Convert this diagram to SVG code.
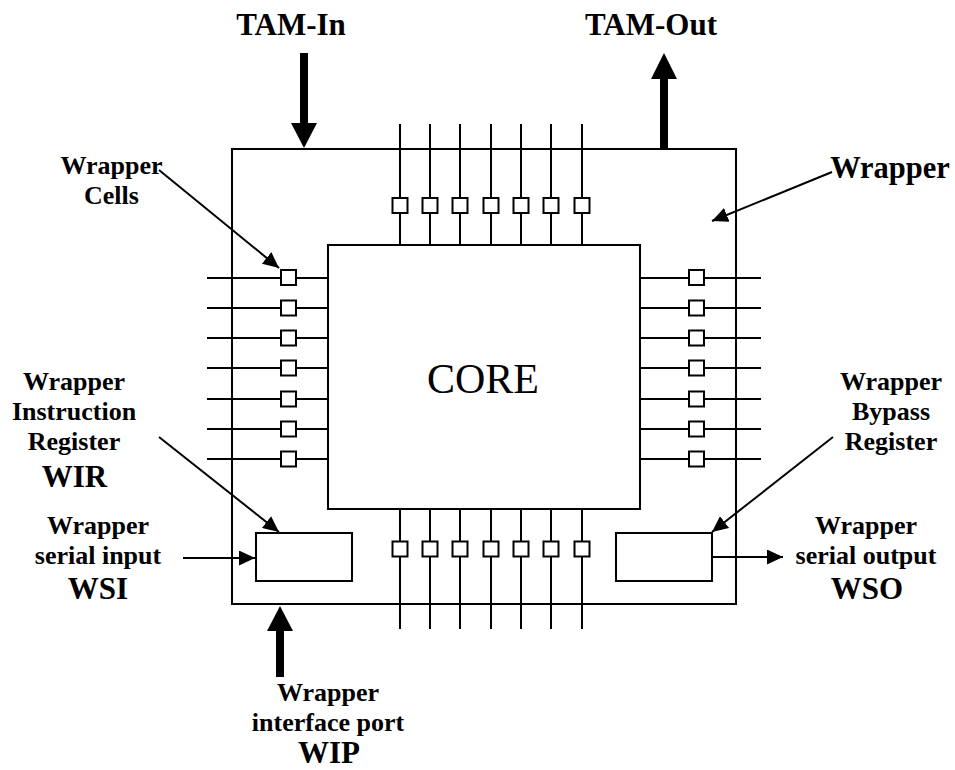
<svg xmlns="http://www.w3.org/2000/svg" width="955" height="770" viewBox="0 0 955 770">
<style>
.ln{stroke:#000;stroke-width:2;fill:none}
.box{stroke:#000;stroke-width:2;fill:#fff}
.t{font-family:"Liberation Serif","Times New Roman",serif;font-weight:bold;text-anchor:middle;fill:#000}
.s{font-size:26px}
.b{font-size:31px}
.core{font-family:"Liberation Serif","Times New Roman",serif;font-size:42px;text-anchor:middle;fill:#000}
</style>
<defs>
<marker id="ah" markerUnits="userSpaceOnUse" markerWidth="17" markerHeight="15" refX="16" refY="7.5" orient="auto" viewBox="0 0 17 15">
<path d="M0,0 L16,7.5 L0,15 z" fill="#000"/>
</marker>
<g id="cellH"><rect x="-7.5" y="-7.5" width="15" height="15" class="box"/></g>
</defs>
<rect width="955" height="770" fill="#fff"/>

<g id="wrapper"><rect x="232" y="149" width="504" height="455" class="ln"/></g>

<g id="pins" class="ln">
<path d="M400,124V269 M430,124V269 M460,124V269 M491,124V269 M521,124V269 M551,124V269 M582,124V269"/>
<path d="M400,485V629 M430,485V629 M460,485V629 M491,485V629 M521,485V629 M551,485V629 M582,485V629"/>
<path d="M207,278H352 M207,308H352 M207,338H352 M207,368H352 M207,399H352 M207,429H352 M207,459H352"/>
<path d="M616,278H761 M616,308H761 M616,338H761 M616,368H761 M616,399H761 M616,429H761 M616,459H761"/>
</g>

<g id="core"><rect x="328" y="245" width="312" height="264" class="box"/>
<text x="483" y="393" class="core">CORE</text></g>

<g id="cells-top">
<use href="#cellH" x="400" y="205.5"/><use href="#cellH" x="430" y="205.5"/><use href="#cellH" x="460" y="205.5"/><use href="#cellH" x="491" y="205.5"/><use href="#cellH" x="521" y="205.5"/><use href="#cellH" x="551" y="205.5"/><use href="#cellH" x="582" y="205.5"/>
</g>
<g id="cells-bottom">
<use href="#cellH" x="400" y="549"/><use href="#cellH" x="430" y="549"/><use href="#cellH" x="460" y="549"/><use href="#cellH" x="491" y="549"/><use href="#cellH" x="521" y="549"/><use href="#cellH" x="551" y="549"/><use href="#cellH" x="582" y="549"/>
</g>
<g id="cells-left">
<use href="#cellH" x="288.5" y="277.5"/><use href="#cellH" x="288.5" y="308"/><use href="#cellH" x="288.5" y="338"/><use href="#cellH" x="288.5" y="368"/><use href="#cellH" x="288.5" y="399"/><use href="#cellH" x="288.5" y="429"/><use href="#cellH" x="288.5" y="459"/>
</g>
<g id="cells-right">
<use href="#cellH" x="696.5" y="277.5"/><use href="#cellH" x="696.5" y="308"/><use href="#cellH" x="696.5" y="338"/><use href="#cellH" x="696.5" y="368"/><use href="#cellH" x="696.5" y="399"/><use href="#cellH" x="696.5" y="429"/><use href="#cellH" x="696.5" y="459"/>
</g>

<g id="wir"><rect x="256" y="533" width="96" height="48" class="box"/></g>
<g id="wby"><rect x="616" y="533" width="96" height="48" class="box"/></g>

<g id="connectors">
<rect x="300" y="53" width="8" height="71" fill="#000"/>
<polygon points="291,123 317,123 304,148" fill="#000"/>
<rect x="660" y="78" width="8" height="71" fill="#000"/>
<polygon points="651,79 677,79 664,53" fill="#000"/>
<rect x="276" y="630" width="8" height="47" fill="#000"/>
<polygon points="267,631 293,631 280,606" fill="#000"/>
<line x1="183" y1="558" x2="255" y2="558" class="ln" marker-end="url(#ah)"/>
<line x1="712" y1="557" x2="783" y2="557" class="ln" marker-end="url(#ah)"/>
<line x1="159" y1="170" x2="279" y2="268" class="ln" marker-end="url(#ah)"/>
<line x1="832" y1="172" x2="712" y2="221" class="ln" marker-end="url(#ah)"/>
<line x1="159" y1="437" x2="279" y2="532" class="ln" marker-end="url(#ah)"/>
<line x1="833" y1="437" x2="712" y2="532" class="ln" marker-end="url(#ah)"/>
</g>

<g id="labels">
<text x="291" y="35" class="t b">TAM-In</text>
<text x="651" y="35" class="t b">TAM-Out</text>
<text x="890" y="178" class="t" font-size="30.5">Wrapper</text>
<text x="111.5" y="174" class="t s">Wrapper</text>
<text x="111.5" y="204" class="t s">Cells</text>
<text x="74" y="390" class="t s">Wrapper</text>
<text x="74" y="420" class="t s">Instruction</text>
<text x="74" y="450" class="t s">Register</text>
<text x="74.5" y="487" class="t b">WIR</text>
<text x="891" y="390" class="t s">Wrapper</text>
<text x="891" y="420" class="t s">Bypass</text>
<text x="891" y="450" class="t s">Register</text>
<text x="98" y="534" class="t s">Wrapper</text>
<text x="98" y="564" class="t s">serial input</text>
<text x="98" y="599" class="t b">WSI</text>
<text x="866" y="534" class="t s">Wrapper</text>
<text x="866" y="564" class="t s">serial output</text>
<text x="867" y="599" class="t b">WSO</text>
<text x="328" y="701" class="t s">Wrapper</text>
<text x="328" y="731" class="t s">interface port</text>
<text x="329" y="763" class="t b">WIP</text>
</g>
</svg>
